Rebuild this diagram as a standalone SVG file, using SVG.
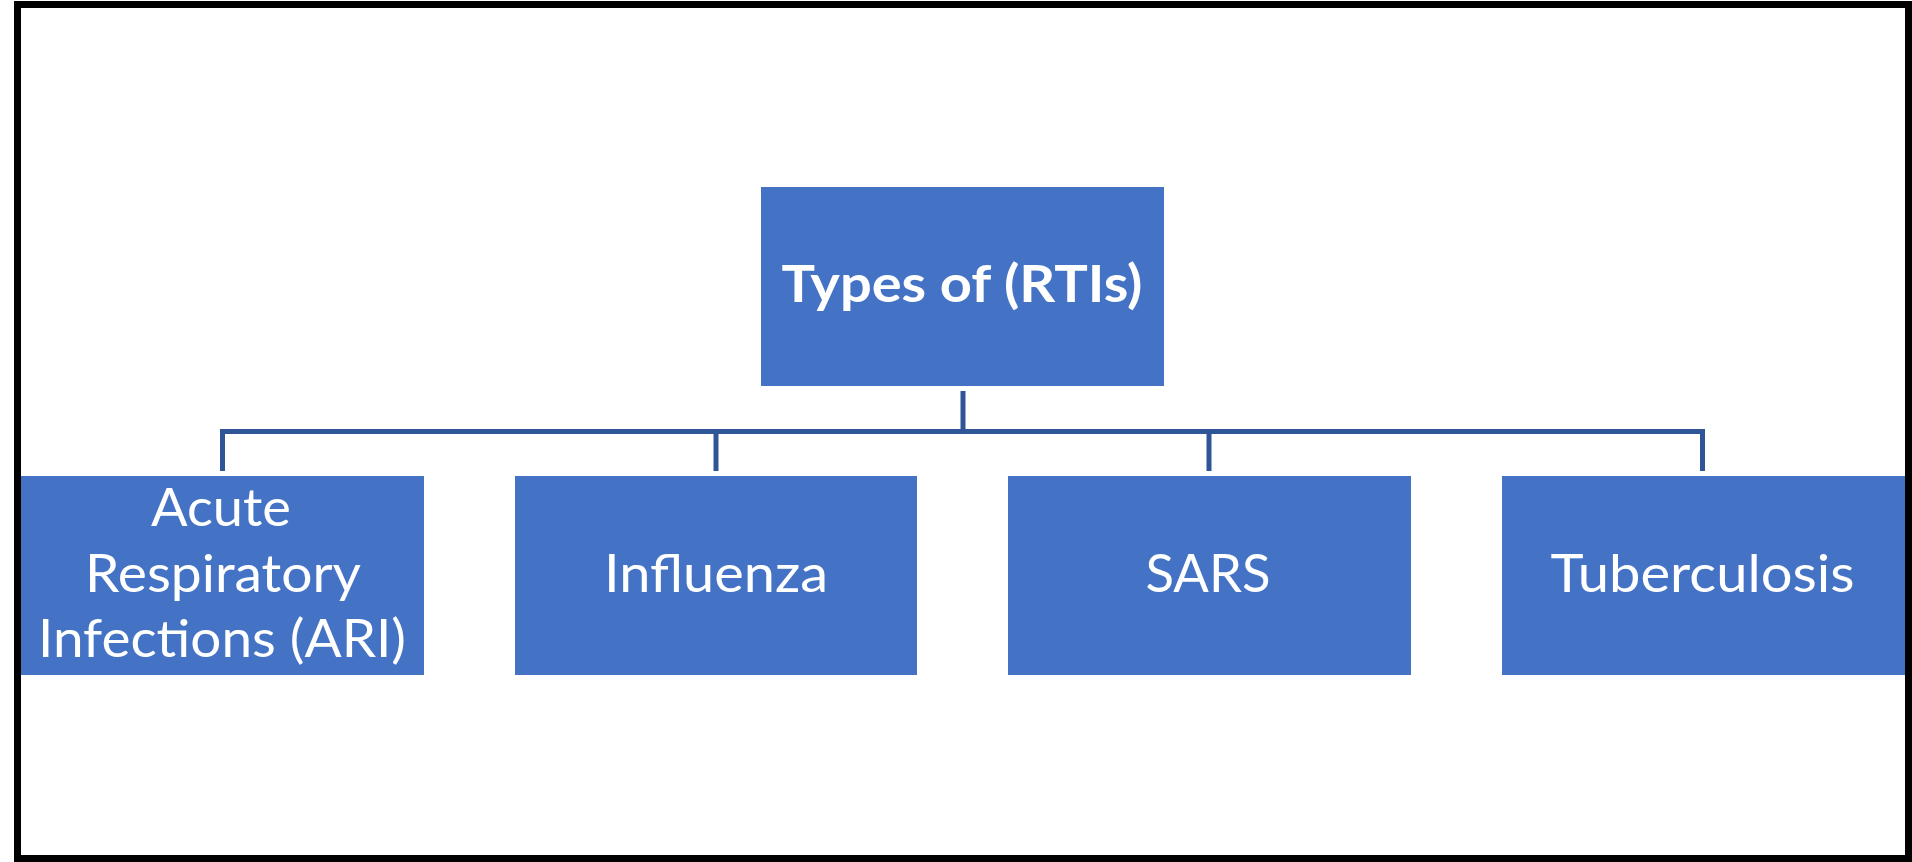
<svg xmlns="http://www.w3.org/2000/svg" width="1912" height="862" viewBox="0 0 1912 862">
<style>
.box{fill:#4472C4;}
.lbl{font-family:Lato,"Open Sans","Liberation Sans",sans-serif;font-size:53px;fill:#FFFFFF;text-anchor:middle;}
.ttl{font-family:Lato,"Open Sans","Liberation Sans",sans-serif;font-size:52px;font-weight:bold;fill:#FFFFFF;text-anchor:middle;}
.con{stroke:#2F5597;stroke-width:5;fill:none;}
</style>
<rect x="0" y="0" width="1912" height="862" fill="#FFFFFF"/>
<rect x="17.5" y="4.5" width="1891" height="854" fill="none" stroke="#000000" stroke-width="7"/>
<g id="connectors">
<line class="con" x1="963" y1="391" x2="963" y2="431.5"/>
<polyline class="con" points="222.5,471 222.5,431.5 1702.5,431.5 1702.5,471"/>
<line class="con" x1="716" y1="431.5" x2="716" y2="471"/>
<line class="con" x1="1209" y1="431.5" x2="1209" y2="471"/>
</g>
<g id="root">
<rect class="box" x="761" y="187" width="403" height="199"/>
<text class="ttl" x="962" y="302" textLength="361" lengthAdjust="spacingAndGlyphs">Types of (RTIs)</text>
</g>
<g id="ari">
<rect class="box" x="21" y="476" width="403" height="199"/>
<text class="lbl" x="221" y="526" textLength="140" lengthAdjust="spacingAndGlyphs">Acute</text>
<text class="lbl" x="223" y="592" textLength="276" lengthAdjust="spacingAndGlyphs">Respiratory</text>
<text class="lbl" x="222" y="657" textLength="368" lengthAdjust="spacingAndGlyphs">Infections (ARI)</text>
</g>
<g id="influenza">
<rect class="box" x="515" y="476" width="402" height="199"/>
<text class="lbl" x="716" y="592" textLength="224" lengthAdjust="spacingAndGlyphs">Influenza</text>
</g>
<g id="sars">
<rect class="box" x="1008" y="476" width="403" height="199"/>
<text class="lbl" x="1208" y="592" textLength="125" lengthAdjust="spacingAndGlyphs">SARS</text>
</g>
<g id="tuberculosis">
<rect class="box" x="1502" y="476" width="403" height="199"/>
<text class="lbl" x="1702.5" y="592" textLength="304" lengthAdjust="spacingAndGlyphs">Tuberculosis</text>
</g>
</svg>
